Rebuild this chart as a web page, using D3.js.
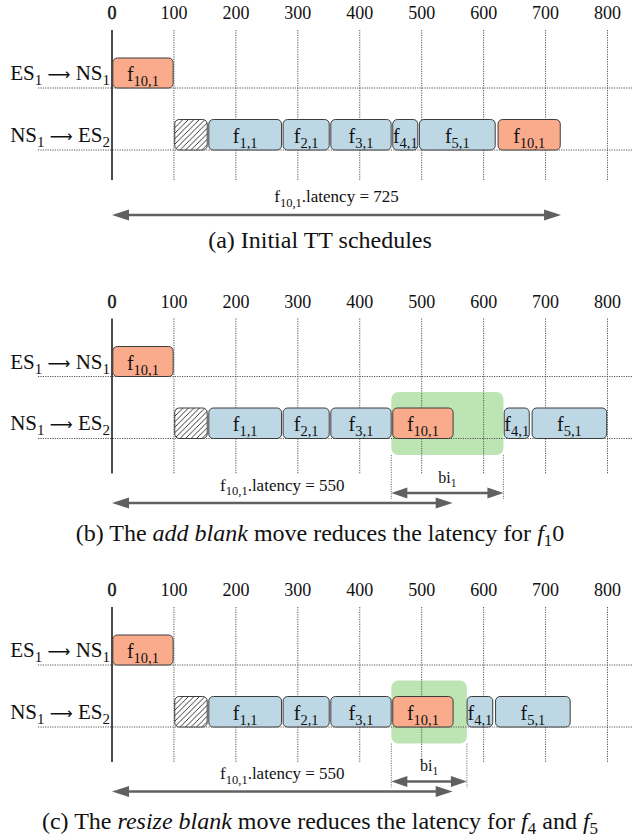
<!DOCTYPE html>
<html><head><meta charset="utf-8">
<script src="https://cdn.jsdelivr.net/npm/d3@7"></script>
<style>body{margin:0;background:#fff}svg{display:block}</style>
</head><body>
<svg id="chart" width="633" height="839"></svg>
<script>
// ---------- data ----------
const tickValues = [0, 100, 200, 300, 400, 500, 600, 700, 800];
const rowLabels = [
  [["ES", false], ["1", true], ["\u00A0", false], ["\u27F6", "arrow"], ["\u00A0NS", false], ["1", true]],
  [["NS", false], ["1", true], ["\u00A0", false], ["\u27F6", "arrow"], ["\u00A0ES", false], ["2", true]]
];
const panelOffsets = [0, 288.5, 577];

const flowsA = [
  {row: 0, sub: "10,1", start: 0,   end: 100, kind: "tt"},
  {row: 1, sub: "",     start: 100, end: 155, kind: "blank"},
  {row: 1, sub: "1,1",  start: 155, end: 275, kind: "flow"},
  {row: 1, sub: "2,1",  start: 275, end: 352, kind: "flow"},
  {row: 1, sub: "3,1",  start: 352, end: 452, kind: "flow"},
  {row: 1, sub: "4,1",  start: 452, end: 495, kind: "flow"},
  {row: 1, sub: "5,1",  start: 495, end: 620, kind: "flow"},
  {row: 1, sub: "10,1", start: 622, end: 725, kind: "tt"}
];
const flowsB = [
  {row: 0, sub: "10,1", start: 0,   end: 100, kind: "tt"},
  {row: 1, sub: "",     start: 100, end: 155, kind: "blank"},
  {row: 1, sub: "1,1",  start: 155, end: 275, kind: "flow"},
  {row: 1, sub: "2,1",  start: 275, end: 352, kind: "flow"},
  {row: 1, sub: "3,1",  start: 352, end: 452, kind: "flow"},
  {row: 1, sub: "10,1", start: 452, end: 552, kind: "tt"},
  {row: 1, sub: "4,1",  start: 632, end: 675, kind: "flow"},
  {row: 1, sub: "5,1",  start: 677, end: 800, kind: "flow"}
];
const flowsC = [
  {row: 0, sub: "10,1", start: 0,   end: 100, kind: "tt"},
  {row: 1, sub: "",     start: 100, end: 155, kind: "blank"},
  {row: 1, sub: "1,1",  start: 155, end: 275, kind: "flow"},
  {row: 1, sub: "2,1",  start: 275, end: 352, kind: "flow"},
  {row: 1, sub: "3,1",  start: 352, end: 452, kind: "flow"},
  {row: 1, sub: "10,1", start: 452, end: 552, kind: "tt"},
  {row: 1, sub: "4,1",  start: 572, end: 616, kind: "flow"},
  {row: 1, sub: "5,1",  start: 618, end: 741, kind: "flow"}
];
const panelFlows = [flowsA, flowsB, flowsC];
const latencyValues = [725, 550, 550];
const blankIntervals = [null, [451, 632], [451, 573]];
const captions = [
  [["(a) Initial TT schedules", "n"]],
  [["(b) The ", "n"], ["add blank", "i"], [" move reduces the latency for ", "n"], ["f", "i"], ["1", "s"], ["0", "n"]],
  [["(c) The ", "n"], ["resize blank", "i"], [" move reduces the latency for ", "n"], ["f", "i"], ["4", "s"], [" and ", "n"], ["f", "i"], ["5", "s"]]
];

// ---------- drawing ----------
const svg = d3.select("#chart");
const serif = "'Liberation Serif', 'Times New Roman', serif";
const x = d3.scaleLinear().domain([0, 800]).range([112, 607.5]);
const colors = {tt: "#faab8c", flow: "#bdd7e5", blank: "url(#hatch)"};

const defs = svg.append("defs");
const pat = defs.append("pattern").attr("id", "hatch").attr("patternUnits", "userSpaceOnUse")
  .attr("width", 5.5).attr("height", 5.5);
pat.append("rect").attr("width", 5.5).attr("height", 5.5).attr("fill", "#fff");
pat.append("path").attr("d", "M-1,1 l2,-2 M0,5.5 l5.5,-5.5 M4.5,6.5 l2,-2")
  .attr("stroke", "#111").attr("stroke-width", 0.85);

function richText(g, parts, subSize, subDy) {
  let pendingDy = 0;
  parts.forEach(([t, sub]) => {
    const ts = g.append("tspan").text(t);
    if (sub === "arrow") {
      ts.attr("font-family", "'DejaVu Sans', sans-serif").attr("font-size", 16);
      if (pendingDy) { ts.attr("dy", pendingDy); pendingDy = 0; }
    } else if (sub) { ts.attr("font-size", subSize).attr("dy", subDy); pendingDy = -subDy; }
    else if (pendingDy) { ts.attr("dy", pendingDy); pendingDy = 0; }
  });
}

function arrow(g, x1, x2, y, w, hl, hw) {
  g.append("line").attr("x1", x1 + hl - 1).attr("x2", x2 - hl + 1).attr("y1", y).attr("y2", y)
    .attr("stroke", "#606060").attr("stroke-width", w);
  g.append("path").attr("d", `M${x1},${y} L${x1 + hl},${y - hw} L${x1 + hl},${y + hw} Z`).attr("fill", "#606060");
  g.append("path").attr("d", `M${x2},${y} L${x2 - hl},${y - hw} L${x2 - hl},${y + hw} Z`).attr("fill", "#606060");
}

const rowTop = [58, 119.5];
const rowH = [30, 30.5];

panelOffsets.forEach((off, p) => {
  const g = svg.append("g").attr("transform", `translate(0,${off})`);
  const axisBottom = p === 0 ? 180 : 185;
  const bi = blankIntervals[p];

  // green blank interval
  if (bi) {
    g.append("rect").attr("x", x(bi[0])).attr("width", x(bi[1]) - x(bi[0]))
      .attr("y", 103.5).attr("height", 63).attr("rx", 7).attr("fill", "#bde5b4");
  }

  // tick labels
  g.selectAll("text.tick").data(tickValues).join("text").attr("class", "tick")
    .attr("x", d => x(d)).attr("y", 19).attr("text-anchor", "middle")
    .attr("font-family", serif).attr("font-size", 18).attr("fill", "#111")
    .attr("stroke", d => d === 0 ? "#111" : "none").attr("stroke-width", 0.45)
    .text(d => d);

  // vertical grid
  g.selectAll("line.grid").data(tickValues.filter(d => d > 0)).join("line").attr("class", "grid")
    .attr("x1", d => x(d)).attr("x2", d => x(d)).attr("y1", 30).attr("y2", axisBottom)
    .attr("stroke", "#555").attr("stroke-width", 1).attr("stroke-dasharray", "1.2,1.2");

  // row dotted lines
  [0, 1].forEach(r => {
    g.append("line").attr("x1", 38).attr("x2", 633)
      .attr("y1", rowTop[r] + rowH[r]).attr("y2", rowTop[r] + rowH[r])
      .attr("stroke", "#555").attr("stroke-width", 1).attr("stroke-dasharray", "1.2,1.2");
  });

  // axis line at 0
  g.append("line").attr("x1", x(0)).attr("x2", x(0)).attr("y1", 30).attr("y2", axisBottom)
    .attr("stroke", "#111").attr("stroke-width", 1.5);

  // row labels
  rowLabels.forEach((parts, r) => {
    const t = g.append("text").attr("x", 110).attr("y", rowTop[r] + 22).attr("text-anchor", "end")
      .attr("font-family", serif).attr("font-size", 21).attr("fill", "#111");
    richText(t, parts, 15, 5);
  });

  // boxes
  const flows = panelFlows[p];
  g.selectAll("rect.box").data(flows).join("rect").attr("class", "box")
    .attr("x", d => x(d.start) + 0.8).attr("width", d => x(d.end) - x(d.start) - 1.6)
    .attr("y", d => rowTop[d.row]).attr("height", d => rowH[d.row])
    .attr("rx", 4.5).attr("fill", d => colors[d.kind])
    .attr("stroke", "#3c3c3c").attr("stroke-width", 1);

  flows.filter(d => d.kind !== "blank").forEach(d => {
    const t = g.append("text").attr("x", (x(d.start) + x(d.end)) / 2).attr("y", rowTop[d.row] + 23)
      .attr("text-anchor", "middle").attr("font-family", serif).attr("font-size", 20).attr("fill", "#111");
    richText(t, [["f", false], [d.sub, true]], 14.5, 5);
  });

  // blank interval arrow
  if (bi) {
    const yb = 204.5;
    [bi[0], bi[1]].forEach(v => {
      g.append("line").attr("x1", x(v)).attr("x2", x(v)).attr("y1", 166.5).attr("y2", yb + 6)
        .attr("stroke", "#666").attr("stroke-width", 0.9).attr("stroke-dasharray", "1.2,1.2");
    });
    arrow(g, x(bi[0]), x(bi[1]), yb, 2.6, 16, 5.5);
    const t = g.append("text").attr("x", (x(bi[0]) + x(bi[1])) / 2).attr("y", 194)
      .attr("text-anchor", "middle").attr("font-family", serif).attr("font-size", 16).attr("fill", "#111");
    richText(t, [["bi", false], ["1", true]], 11.5, 4);
  }

  // latency arrow
  const ya = p === 0 ? 215 : 214.5;
  arrow(g, x(0), x(latencyValues[p]), ya, 2.6, 17, 5.5);
  const lt = g.append("text").attr("x", (x(0) + x(latencyValues[p])) / 2).attr("y", 202)
    .attr("text-anchor", "middle").attr("font-family", serif).attr("font-size", 17).attr("fill", "#111");
  richText(lt, [["f", false], ["10,1", true], [".latency = " + latencyValues[p], false]], 12.5, 4.5);

  // caption
  const ct = g.append("text").attr("x", 320).attr("y", p === 0 ? 248 : 252)
    .attr("text-anchor", "middle").attr("font-family", serif).attr("font-size", 24).attr("fill", "#111");
  let pend = 0;
  captions[p].forEach(([t, s]) => {
    const ts = ct.append("tspan").text(t);
    if (s === "i") ts.attr("font-style", "italic");
    if (s === "s") { ts.attr("font-size", 17).attr("dy", 5); pend = -5; }
    else if (pend) { ts.attr("dy", pend); pend = 0; }
  });
});
</script>
</body></html>
